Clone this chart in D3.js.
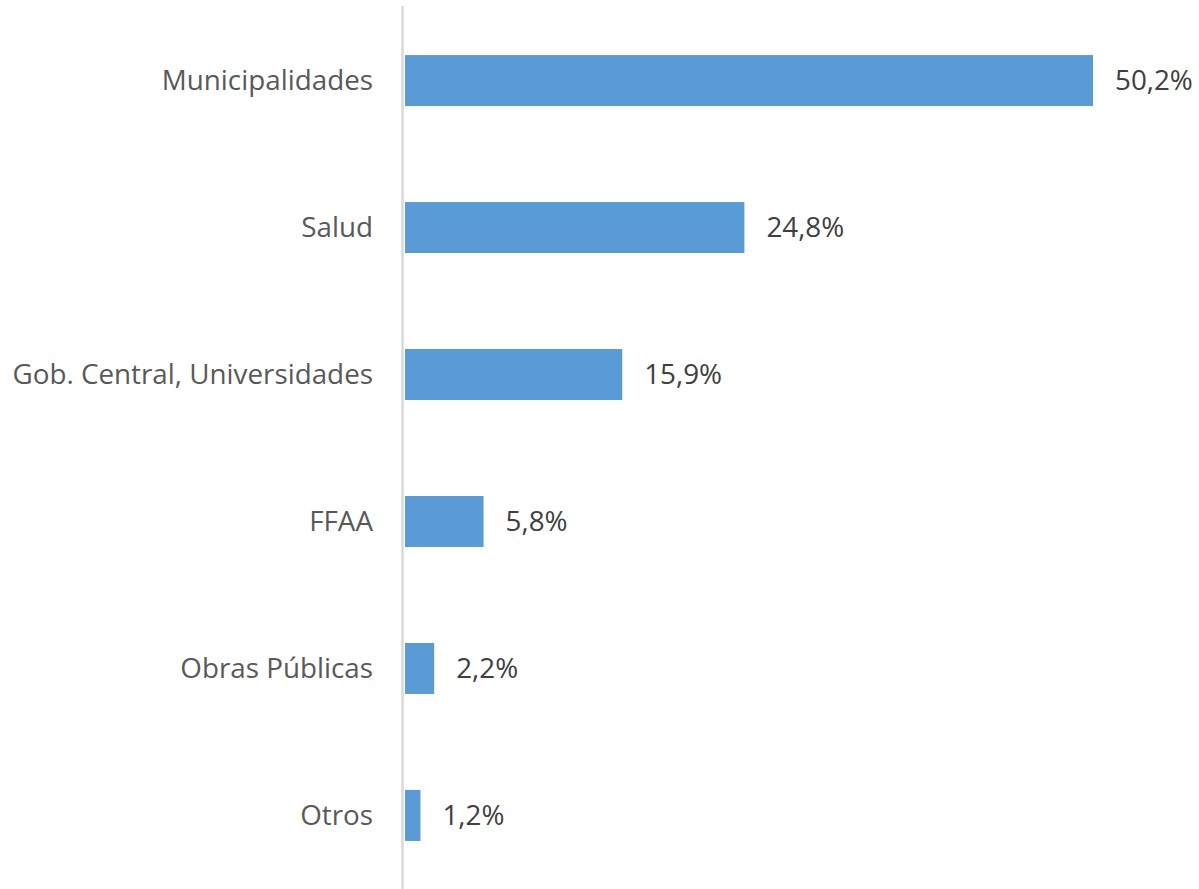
<!DOCTYPE html>
<html>
<head>
<meta charset="utf-8">
<script src="https://cdn.jsdelivr.net/npm/d3@7"></script>
<style>
  body { margin: 0; background: #fff; }
  svg text { font-family: "Open Sans", sans-serif; }
</style>
</head>
<body>
<div class="chart"></div>
<script>
// Data
var categories = ["Municipalidades", "Salud", "Gob. Central, Universidades", "FFAA", "Obras Públicas", "Otros"];
var values = [50.2, 24.8, 15.9, 5.8, 2.2, 1.2];

var width = 1199, height = 889,
    margin = {top: 6, right: 0, bottom: 0, left: 404};

var svg = d3.select("div.chart")
  .append("svg")
    .attr("width", width)
    .attr("height", height);

// x scale: 50.2% spans ~689px
var x = d3.scaleLinear()
  .domain([0, 50.2])
  .range([margin.left, 1093]);

var y = d3.scaleBand()
  .domain(categories)
  .range([7, 889])
  .paddingInner(0.653)
  .paddingOuter(0.327);

var data = categories.map(function(c, i) { return {name: c, value: values[i]}; });

// bars
svg.append("g")
  .selectAll("rect")
  .data(data)
  .enter().append("rect")
    .attr("x", x(0) + 1)
    .attr("y", function(d) { return y(d.name); })
    .attr("width", function(d) { return x(d.value) - x(0) - 1; })
    .attr("height", y.bandwidth())
    .attr("fill", "#5b9bd5");

// category axis line
svg.append("line")
  .attr("x1", 402.5).attr("x2", 402.5)
  .attr("y1", 6).attr("y2", height)
  .attr("stroke", "#d9d9d9")
  .attr("stroke-width", 2.5);

// category labels
svg.append("g")
  .selectAll("text")
  .data(data)
  .enter().append("text")
    .attr("x", 373)
    .attr("y", function(d) { return y(d.name) + y.bandwidth() / 2; })
    .attr("dy", "0.35em")
    .attr("text-anchor", "end")
    .attr("fill", "#595959")
    .style("font-size", "27.8px")
    .text(function(d) { return d.name; });

// value labels
var fmt = function(v) { return d3.format(".1f")(v).replace(".", ",") + "%"; };
svg.append("g")
  .selectAll("text")
  .data(data)
  .enter().append("text")
    .attr("x", function(d) { return x(d.value) + 22; })
    .attr("y", function(d) { return y(d.name) + y.bandwidth() / 2; })
    .attr("dy", "0.35em")
    .attr("fill", "#404040")
    .style("font-size", "27.8px")
    .text(function(d) { return fmt(d.value); });
</script>
</body>
</html>
